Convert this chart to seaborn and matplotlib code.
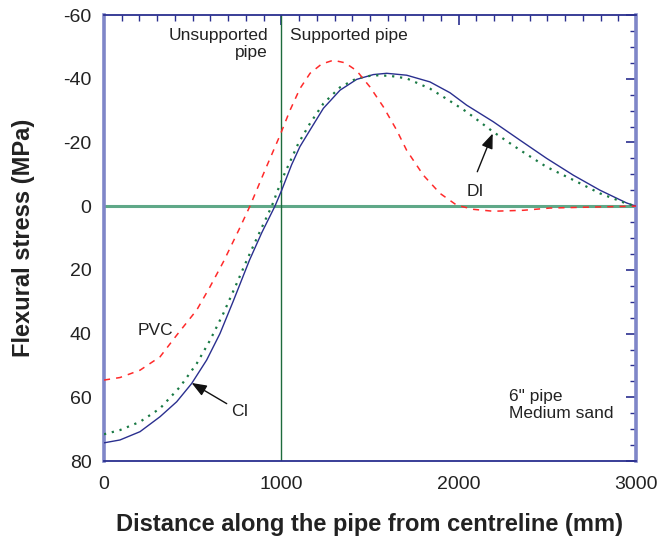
import matplotlib
matplotlib.use("Agg")
import matplotlib.pyplot as plt
from matplotlib.ticker import MultipleLocator
import seaborn as sns
import pandas as pd

# ---- data ----
ci_x = [0, 90, 203, 316, 410, 494, 579, 654, 729, 820, 890, 964, 1002, 1058, 1105,
        1162, 1237, 1331, 1425, 1519, 1594, 1707, 1838, 1951, 2045, 2195, 2346,
        2496, 2647, 2797, 2947, 3000]
ci_y = [74.3, 73.4, 70.8, 66.1, 61.4, 55.7, 48.3, 40.0, 29.8, 17.0, 8.3, 0.0, -5.0,
        -13.0, -18.7, -23.9, -30.7, -36.4, -39.8, -41.3, -41.7, -41.1, -39.0, -35.6,
        -31.7, -26.5, -20.7, -15.0, -9.7, -5.0, -1.0, 0.0]

di_x = [0, 90, 203, 316, 429, 523, 598, 673, 748, 805, 875, 946, 1002, 1096, 1162,
        1237, 1331, 1425, 1519, 1613, 1707, 1838, 1951, 2045, 2195, 2346, 2496,
        2647, 2797, 2947, 3000]
di_y = [71.6, 70.3, 67.7, 63.5, 56.7, 49.4, 42.1, 33.7, 24.3, 17.0, 8.5, 0.0, -8.2,
        -19.7, -26.0, -32.2, -37.3, -40.1, -41.1, -40.9, -40.1, -36.9, -33.0, -29.6,
        -23.3, -17.6, -12.3, -8.2, -4.0, -0.8, 0.0]

pvc_x = [0, 90, 203, 316, 410, 523, 598, 673, 760, 823, 908, 993, 1049, 1105, 1162,
         1227, 1293, 1359, 1425, 1500, 1575, 1650, 1707, 1801, 1895, 1989, 2083,
         2195, 2365, 2515, 2741, 3000]
pvc_y = [54.6, 53.8, 51.5, 47.3, 40.5, 32.6, 25.3, 17.5, 7.5, 0.0, -11.3, -22.3,
         -30.1, -36.9, -41.7, -44.6, -45.8, -45.0, -42.5, -37.4, -31.2, -23.9, -17.5,
         -9.7, -4.0, -0.3, 1.0, 1.6, 1.3, 0.6, 0.3, 0.0]

x_ticks = [0, 1000, 2000, 3000]
y_ticks = [-60, -40, -20, 0, 20, 40, 60, 80]

df = pd.concat([
    pd.DataFrame({"x": ci_x, "y": ci_y, "pipe": "CI"}),
    pd.DataFrame({"x": di_x, "y": di_y, "pipe": "DI"}),
    pd.DataFrame({"x": pvc_x, "y": pvc_y, "pipe": "PVC"}),
])

sns.set_style("white")
plt.rcParams["font.family"] = ["Liberation Sans", "DejaVu Sans"]
plt.rcParams["axes.unicode_minus"] = False

fig = plt.figure(figsize=(6.57, 5.44), dpi=100)
ax = fig.add_axes([104 / 657, 1 - 461 / 544, (636 - 104) / 657, (461 - 15) / 544])

navy = "#2a2f8f"
ax.axhline(0, color="#5fa888", lw=2.2, zorder=1)
ax.axvline(1000, color="#1d6b3c", lw=1.0, zorder=1)

styles = {"CI": dict(color="#2a2f8f", ls="-", lw=1.0),
          "DI": dict(color="#1a7a45", ls=(0, (1, 2.6)), lw=1.6),
          "PVC": dict(color="#ff2a2a", ls=(0, (4, 4)), lw=1.1)}
for name in ["CI", "DI", "PVC"]:
    sub = df[df["pipe"] == name]
    sns.lineplot(data=sub, x="x", y="y", ax=ax, sort=False, estimator=None,
                 legend=False, zorder=3, **styles[name])

ax.set_xlim(0, 3000)
ax.set_ylim(80, -60)
ax.set_xticks(x_ticks)
ax.set_yticks(y_ticks)
ax.xaxis.set_minor_locator(MultipleLocator(100))
ax.yaxis.set_minor_locator(MultipleLocator(5))
ax.tick_params(which="both", direction="in", top=True, right=True, color=navy,
               labelcolor="#222222", labelsize=14)
ax.tick_params(which="major", length=7, width=1.2)
ax.tick_params(which="minor", length=4, width=1.0)
ax.tick_params(axis="x", pad=11)
ax.tick_params(axis="y", pad=9)

for s in ["top", "bottom"]:
    ax.spines[s].set_color(navy)
    ax.spines[s].set_linewidth(1.3)
for s in ["left", "right"]:
    ax.spines[s].set_color("#7f86c8")
    ax.spines[s].set_linewidth(2.6)

ax.set_xlabel("Distance along the pipe from centreline (mm)", fontsize=17,
              fontweight="bold", color="#222222", labelpad=14)
ax.set_ylabel("Flexural stress (MPa)", fontsize=17, fontweight="bold",
              color="#222222", labelpad=20)

tc = "#222222"
ax.text(925, -56, "Unsupported\npipe", ha="right", va="top", fontsize=12.5,
        color=tc, linespacing=1.2)
ax.text(1049, -56, "Supported pipe", ha="left", va="top", fontsize=12.5, color=tc)
ax.text(288, 39, "PVC", ha="center", va="center", fontsize=12.5, color=tc)
ax.text(767, 64.5, "CI", ha="center", va="center", fontsize=12.5, color=tc)
ax.text(2092, -4.5, "DI", ha="center", va="center", fontsize=12.5, color=tc)
ax.text(2284, 57.5, "6\" pipe\nMedium sand", ha="left", va="top", fontsize=12.5,
        color=tc, linespacing=1.15)

arrow = dict(arrowstyle="-|>,head_length=0.9,head_width=0.35", color="#111111",
             lw=1.0, shrinkA=0, shrinkB=0)
ax.annotate("", xy=(494, 55.5), xytext=(692, 62), arrowprops=arrow)
ax.annotate("", xy=(2192, -22.8), xytext=(2105, -10.8), arrowprops=arrow)

fig.savefig("out.png", dpi=100)
